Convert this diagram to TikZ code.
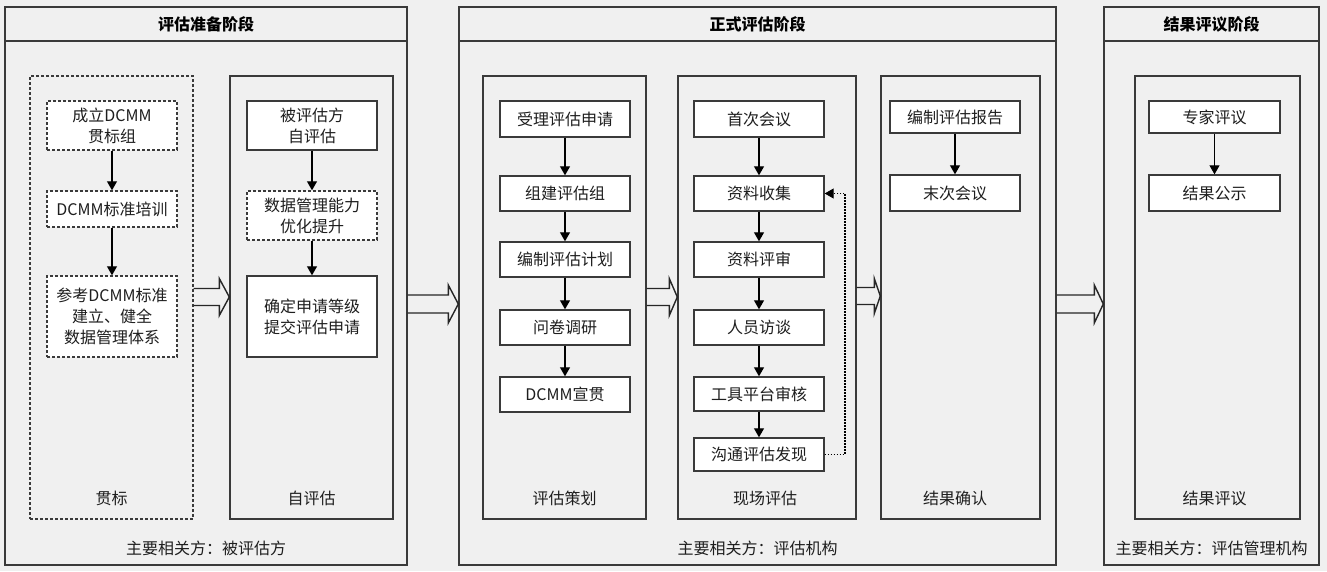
\documentclass[tikz,border=0pt]{standalone}
\usepackage{fontspec}
\setmainfont{Noto Sans CJK SC}
\usetikzlibrary{arrows.meta,calc}
\definecolor{lc}{HTML}{3A3A3A}
\definecolor{bg}{HTML}{F0F0F0}
\definecolor{tc}{HTML}{1E1E1E}
\newcommand\blkarrow[6]{%
  \draw[blk] ($(#1.east |- #3)+(0,-#4)$) -- ($(#2.west |- #3)+(-#6,-#4)$)
    -- ($(#2.west |- #3)+(-#6,-#5)$) -- (#2.west |- #3)
    -- ($(#2.west |- #3)+(-#6,#5)$) -- ($(#2.west |- #3)+(-#6,#4)$)
    -- ($(#1.east |- #3)+(0,#4)$);}
\tikzset{
  panel/.style={draw=lc, line width=1.4pt, minimum height=558pt, inner sep=0pt},
  col/.style={draw=lc, line width=1.4pt, minimum height=443pt, minimum width=163pt, inner sep=0pt},
  dsh/.style={dash pattern=on 3pt off 2pt},
  box/.style={draw=lc, fill=white, line width=1.4pt, minimum width=130pt, align=center,
    inner sep=0pt, text=tc, font=\fontsize{16}{21}\selectfont},
  lbl/.style={text=tc, font=\fontsize{16}{21}\selectfont, inner sep=0pt},
  ttl/.style={text=black, font=\fontsize{16}{21}\selectfont\bfseries, inner sep=0pt},
  flow/.style={draw=black, line width=1.1pt, -{Triangle[length=9pt,width=10pt]}},
  fb/.style={draw=black, line width=1.1pt, dash pattern=on 1.5pt off 1.5pt, -{Triangle[length=9pt,width=10pt]}},
  blk/.style={draw=black!85, line width=1.4pt, line join=miter},
}
\begin{document}
\begin{tikzpicture}[x=1pt,y=-1pt]
\fill[bg] (0,0) rectangle (1327,571);
\useasboundingbox (0,0) rectangle (1327,571);
\coordinate (hl) at (0,41);
\coordinate (ya) at (0,297);
\coordinate (yb) at (0,304);
\coordinate (yc) at (0,296);
\coordinate (fbx) at (845,0);
% panels
\node[panel, minimum width=402pt] (P1) at (206,286) {};
\node[panel, minimum width=597pt] (P2) at (757.5,286) {};
\node[panel, minimum width=215pt] (P3) at (1211.5,286) {};
\draw[draw=lc, line width=2.4pt] (P1.west |- hl) -- (P1.east |- hl);
\draw[draw=lc, line width=2.4pt] (P2.west |- hl) -- (P2.east |- hl);
\draw[draw=lc, line width=2.4pt] (P3.west |- hl) -- (P3.east |- hl);
\node[ttl] (T1) at (206,24) {评估准备阶段};
\node[ttl] (T2) at (757.5,24) {正式评估阶段};
\node[ttl] (T3) at (1211.5,24) {结果评议阶段};
\node[lbl] (R1) at (206,548) {主要相关方：被评估方};
\node[lbl] (R2) at (757.5,548) {主要相关方：评估机构};
\node[lbl] (R3) at (1211.5,548) {主要相关方：评估管理机构};
% columns
\node[col, dsh] (C1) at (111.5,297.5) {};
\node[col] (C2) at (311.5,297.5) {};
\node[col] (C3) at (564.5,297.5) {};
\node[col, minimum width=178pt] (C4) at (767,297.5) {};
\node[col, minimum width=159pt] (C5) at (960.5,297.5) {};
\node[col, minimum width=165pt] (C6) at (1217.5,297.5) {};
\node[lbl] (L1) at (111.5,498) {贯标};
\node[lbl] (L2) at (311.5,498) {自评估};
\node[lbl] (L3) at (564.5,498) {评估策划};
\node[lbl] (L4) at (765,498) {现场评估};
\node[lbl] (L5) at (955,498) {结果确认};
\node[lbl] (L6) at (1214.5,498) {结果评议};
% column 1
\node[box, dsh, minimum height=49pt] (a1) at (112,125.5) {成立DCMM\\贯标组};
\node[box, dsh, minimum height=36pt] (a2) at (112,209) {DCMM标准培训};
\node[box, dsh, minimum height=81pt] (a3) at (112,316.5) {参考DCMM标准\\建立、健全\\数据管理体系};
% column 2
\node[box, minimum height=49pt] (b1) at (312,125.5) {被评估方\\自评估};
\node[box, dsh, minimum height=49pt] (b2) at (312,215.5) {数据管理能力\\优化提升};
\node[box, minimum height=81pt] (b3) at (312,316.5) {确定申请等级\\提交评估申请};
% column 3
\node[box, minimum height=36pt] (c1) at (565,119) {受理评估申请};
\node[box, minimum height=35pt] (c2) at (565,193.5) {组建评估组};
\node[box, minimum height=35pt] (c3) at (565,259.5) {编制评估计划};
\node[box, minimum height=35pt] (c4) at (565,327.5) {问卷调研};
\node[box, minimum height=35pt] (c5) at (565,394.5) {DCMM宣贯};
% column 4
\node[box, minimum height=36pt] (d1) at (759,119) {首次会议};
\node[box, minimum height=35pt] (d2) at (759,193.5) {资料收集};
\node[box, minimum height=35pt] (d3) at (759,259.5) {资料评审};
\node[box, minimum height=35pt] (d4) at (759,327.5) {人员访谈};
\node[box, minimum height=34pt] (d5) at (759,394) {工具平台审核};
\node[box, minimum height=33pt] (d6) at (759,454.5) {沟通评估发现};
% column 5
\node[box, minimum height=32pt] (e1) at (955,117) {编制评估报告};
\node[box, minimum height=36pt] (e2) at (955,193) {末次会议};
% column 6
\node[box, minimum height=32pt, minimum width=131pt] (f1) at (1214.5,117) {专家评议};
\node[box, minimum height=36pt, minimum width=131pt] (f2) at (1214.5,193) {结果公示};
% flows
\draw[flow] (a1) -- (a2);
\draw[flow] (a2) -- (a3);
\draw[flow] (b1) -- (b2);
\draw[flow] (b2) -- (b3);
\draw[flow] (c1) -- (c2);
\draw[flow] (c2) -- (c3);
\draw[flow] (c3) -- (c4);
\draw[flow] (c4) -- (c5);
\draw[flow] (d1) -- (d2);
\draw[flow] (d2) -- (d3);
\draw[flow] (d3) -- (d4);
\draw[flow] (d4) -- (d5);
\draw[flow] (d5) -- (d6);
\draw[flow] (e1) -- (e2);
\draw[flow] (f1) -- (f2);
\draw[fb] (d6.east) -- (fbx |- d6.east) -- (fbx |- d2.east) -- (d2.east);
% block arrows
\blkarrow{C1}{C2}{ya}{8.5}{18.5}{10}
\blkarrow{C3}{C4}{ya}{8.5}{18.5}{8}
\blkarrow{C4}{C5}{yc}{8.5}{17.5}{6}
\blkarrow{P1}{P2}{yb}{9}{19}{10}
\blkarrow{P2}{P3}{yb}{9}{19}{9}
\end{tikzpicture}
\end{document}
